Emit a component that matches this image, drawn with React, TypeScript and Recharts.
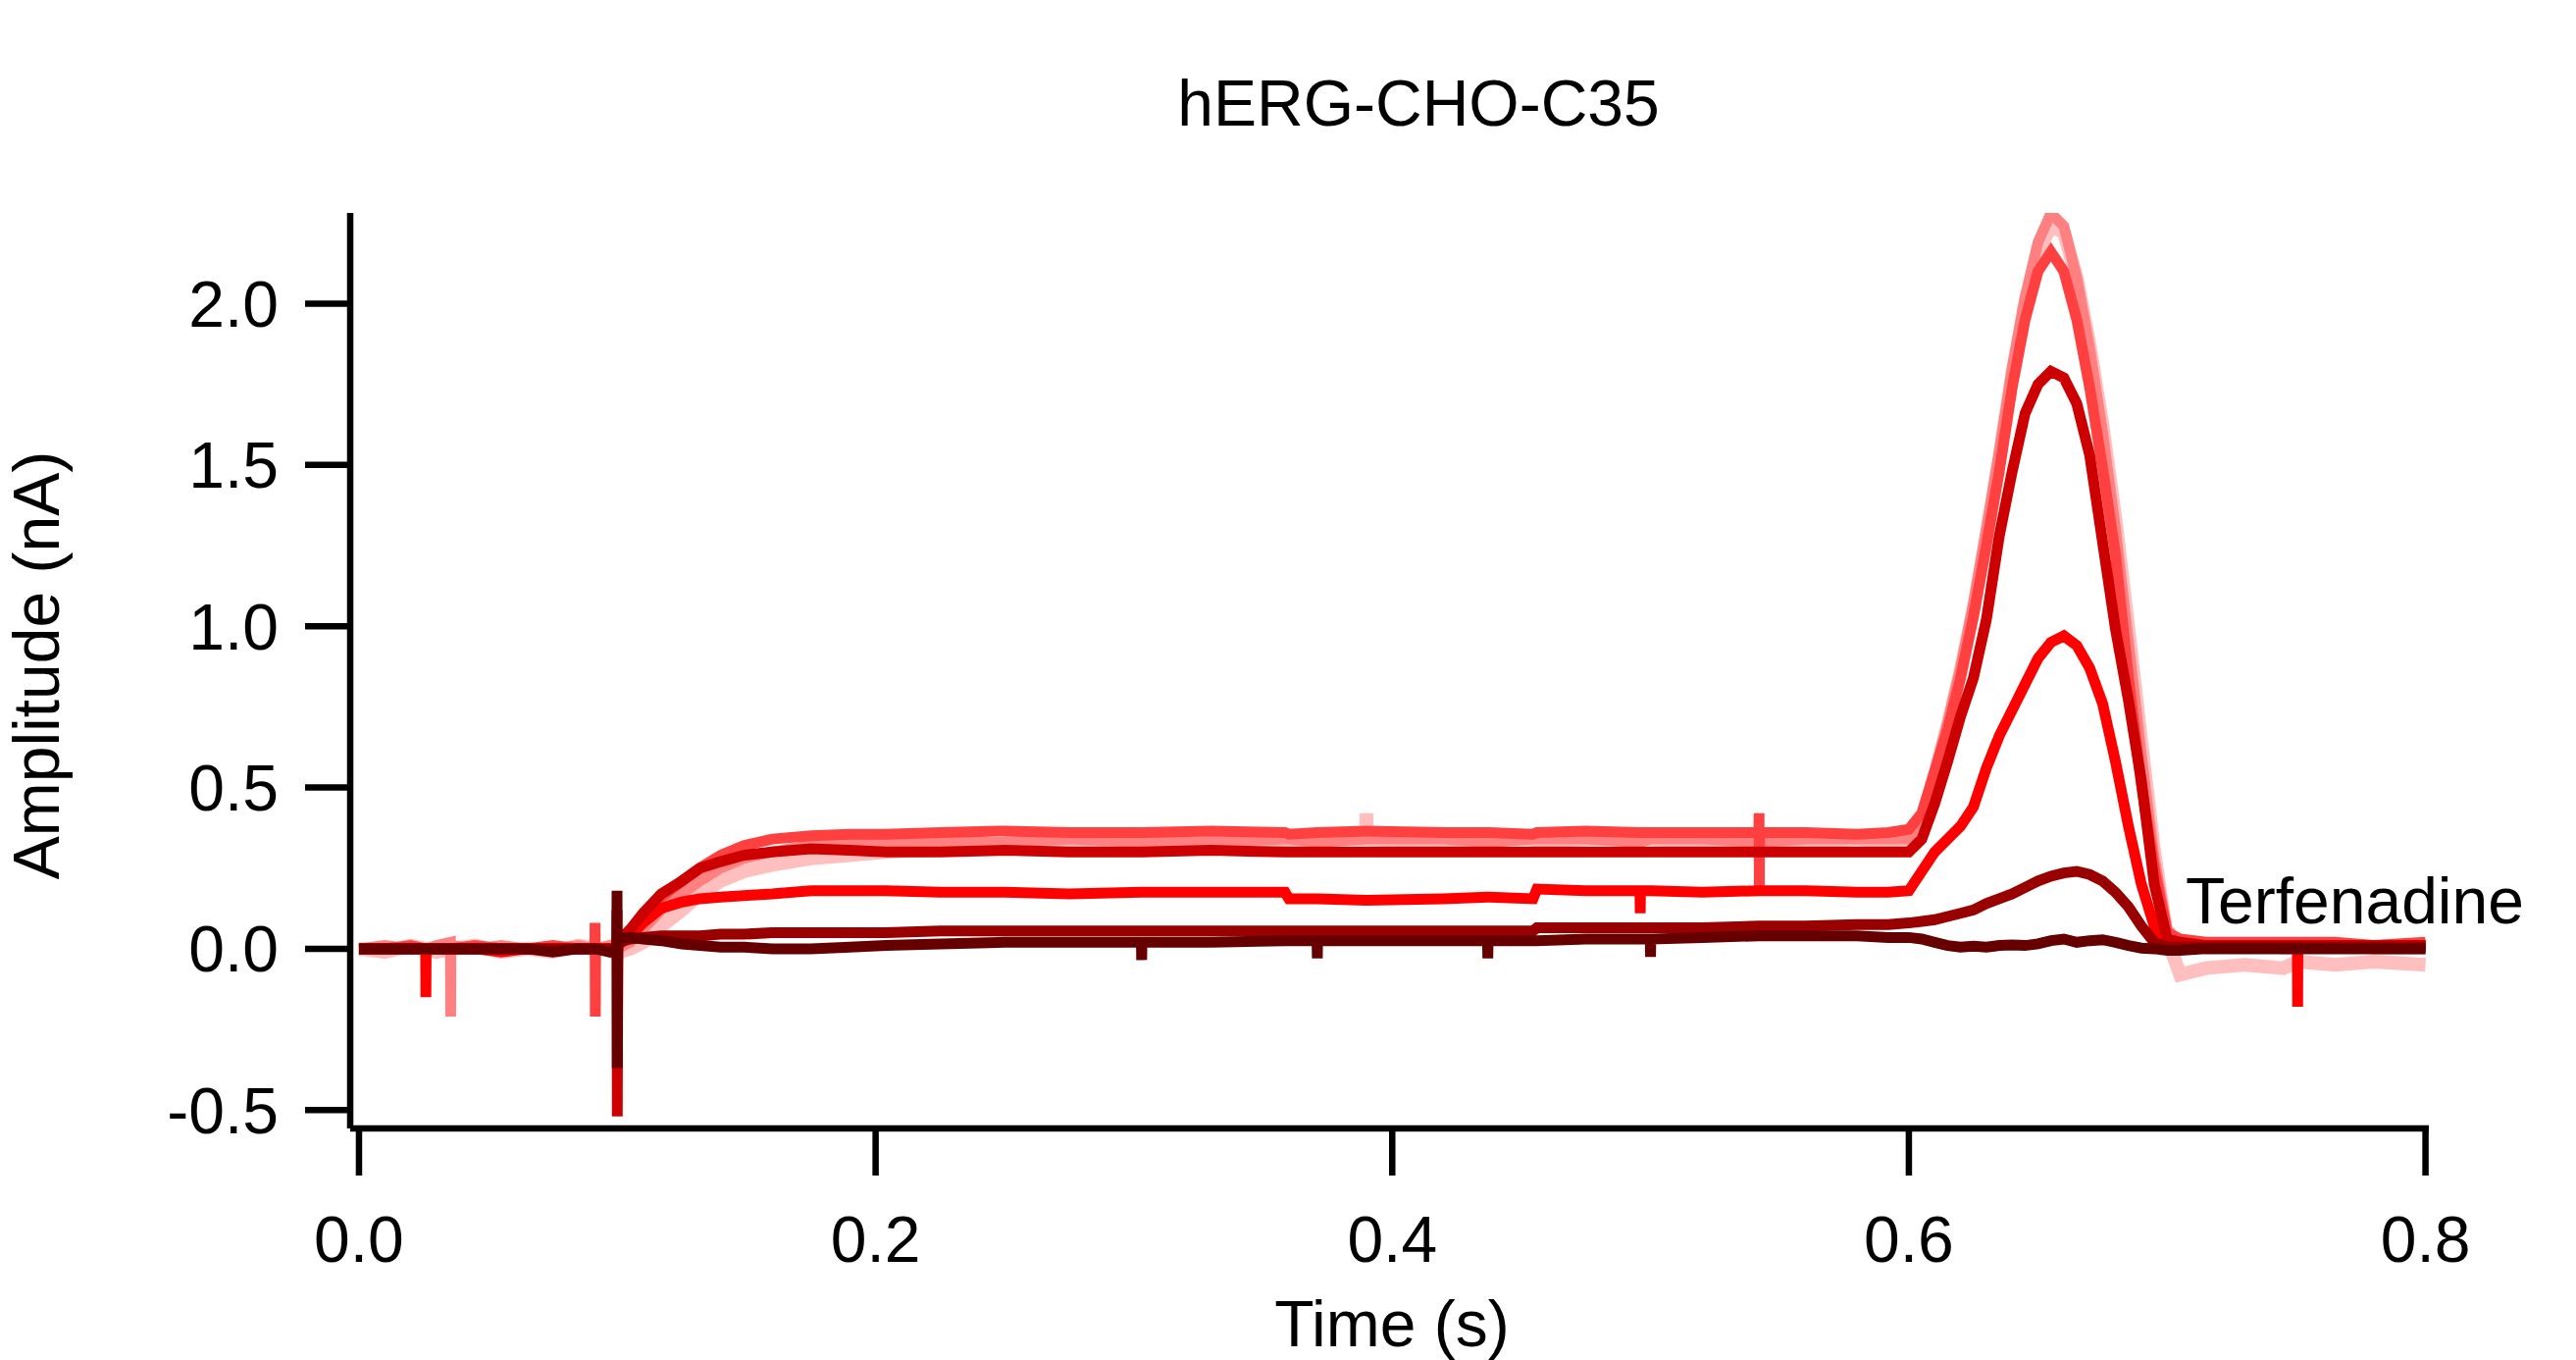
import React from 'react';
import { LineChart, Line, XAxis, YAxis } from 'recharts';

// Time points (s)
const TIME = [
  0.000, 0.010, 0.020, 0.0258, 0.0259, 0.0260, 0.030, 0.0354, 0.0355, 0.0356,
  0.045, 0.055, 0.065, 0.075, 0.085, 0.0913, 0.0914, 0.0915, 0.0916, 0.097,
  0.0998, 0.0999, 0.1000, 0.1002, 0.105, 0.110, 0.117, 0.125, 0.132, 0.140,
  0.149, 0.160, 0.175, 0.190, 0.204, 0.225, 0.250, 0.275, 0.3029, 0.3030,
  0.3031, 0.330, 0.3585, 0.3600, 0.3709, 0.3710, 0.3711, 0.3899, 0.3900, 0.3901,
  0.420, 0.4369, 0.4370, 0.4371, 0.4545, 0.4560, 0.475, 0.4959, 0.4960, 0.4961,
  0.4999, 0.5000, 0.5001, 0.520, 0.5419, 0.5420, 0.5421, 0.5422, 0.560, 0.580,
  0.592, 0.600, 0.605, 0.610, 0.615, 0.620, 0.625, 0.630, 0.635, 0.640,
  0.645, 0.650, 0.655, 0.660, 0.665, 0.670, 0.675, 0.680, 0.685, 0.690,
  0.695, 0.700, 0.705, 0.715, 0.730, 0.745, 0.7504, 0.7505, 0.7506, 0.765,
  0.780, 0.800,
];

// Amplitude traces (nA)
const TRACE_1 = [
  0.00, -0.01, 0.01, 0.00, 0.00, 0.00, -0.01, 0.00, 0.00, 0.00,
  0.01, -0.01, 0.00, -0.01, 0.01, 0.00, 0.00, 0.00, 0.00, 0.00,
  0.00, 0.00, -0.03, -0.01, 0.00, 0.02, 0.07, 0.12, 0.17, 0.21,
  0.24, 0.26, 0.28, 0.29, 0.30, 0.31, 0.32, 0.33, 0.33, 0.33,
  0.33, 0.34, 0.33, 0.33, 0.34, 0.34, 0.34, 0.34, 0.42, 0.34,
  0.33, 0.34, 0.34, 0.34, 0.34, 0.33, 0.34, 0.34, 0.34, 0.34,
  0.34, 0.34, 0.34, 0.33, 0.34, 0.34, 0.34, 0.34, 0.33, 0.34,
  0.33, 0.33, 0.40, 0.54, 0.69, 0.86, 1.05, 1.28, 1.52, 1.78,
  2.00, 2.16, 2.24, 2.22, 2.08, 1.87, 1.62, 1.33, 0.99, 0.64,
  0.30, 0.03, -0.08, -0.06, -0.05, -0.06, -0.04, -0.04, -0.04, -0.05,
  -0.04, -0.05,
];

const TRACE_2 = [
  0.00, 0.01, 0.00, 0.00, 0.00, 0.00, 0.01, 0.02, -0.21, 0.01,
  0.00, 0.01, 0.00, 0.00, 0.01, 0.00, 0.00, 0.00, 0.00, 0.01,
  0.00, 0.01, -0.02, 0.00, 0.02, 0.06, 0.12, 0.17, 0.21, 0.25,
  0.28, 0.30, 0.32, 0.33, 0.33, 0.33, 0.33, 0.34, 0.33, 0.33,
  0.33, 0.33, 0.34, 0.34, 0.33, 0.33, 0.33, 0.34, 0.34, 0.34,
  0.34, 0.33, 0.33, 0.33, 0.34, 0.34, 0.34, 0.33, 0.33, 0.33,
  0.34, 0.34, 0.34, 0.34, 0.33, 0.33, 0.33, 0.33, 0.34, 0.34,
  0.34, 0.34, 0.41, 0.55, 0.70, 0.87, 1.07, 1.30, 1.54, 1.80,
  2.02, 2.19, 2.28, 2.24, 2.08, 1.86, 1.60, 1.30, 0.95, 0.60,
  0.28, 0.06, 0.02, 0.01, 0.01, 0.00, 0.00, 0.00, 0.00, 0.01,
  0.00, 0.00,
];

const TRACE_3 = [
  0.00, 0.00, 0.01, 0.00, 0.00, 0.00, 0.00, 0.00, 0.00, 0.00,
  0.01, 0.00, 0.00, 0.01, 0.00, 0.00, 0.08, -0.21, 0.00, 0.00,
  0.00, 0.02, -0.03, 0.01, 0.05, 0.10, 0.16, 0.21, 0.25, 0.29,
  0.32, 0.34, 0.35, 0.355, 0.355, 0.36, 0.365, 0.36, 0.36, 0.36,
  0.36, 0.365, 0.36, 0.355, 0.36, 0.36, 0.36, 0.365, 0.365, 0.365,
  0.36, 0.36, 0.36, 0.36, 0.355, 0.36, 0.365, 0.36, 0.36, 0.36,
  0.36, 0.36, 0.36, 0.36, 0.36, 0.42, 0.19, 0.36, 0.36, 0.355,
  0.36, 0.37, 0.42, 0.55, 0.68, 0.84, 1.03, 1.25, 1.48, 1.74,
  1.95, 2.10, 2.16, 2.10, 1.95, 1.74, 1.49, 1.22, 0.84, 0.51,
  0.25, 0.05, 0.03, 0.02, 0.02, 0.02, 0.02, 0.02, 0.02, 0.02,
  0.01, 0.02,
];

const TRACE_4 = [
  0.00, 0.00, 0.00, 0.00, -0.15, 0.00, 0.00, 0.00, 0.00, 0.00,
  0.00, -0.01, 0.00, 0.00, 0.00, 0.00, 0.00, 0.00, 0.00, 0.00,
  0.00, 0.01, -0.02, 0.01, 0.04, 0.08, 0.125, 0.145, 0.155, 0.16,
  0.165, 0.17, 0.18, 0.18, 0.18, 0.175, 0.175, 0.17, 0.175, 0.175,
  0.175, 0.175, 0.175, 0.155, 0.155, 0.155, 0.155, 0.15, 0.15, 0.15,
  0.155, 0.16, 0.16, 0.16, 0.155, 0.185, 0.18, 0.18, 0.11, 0.18,
  0.18, 0.18, 0.18, 0.175, 0.18, 0.18, 0.18, 0.18, 0.18, 0.175,
  0.175, 0.18, 0.24, 0.30, 0.34, 0.38, 0.44, 0.56, 0.66, 0.74,
  0.82, 0.90, 0.95, 0.97, 0.94, 0.87, 0.76, 0.58, 0.38, 0.20,
  0.07, 0.02, 0.01, 0.01, 0.01, 0.01, 0.01, -0.18, 0.01, 0.01,
  0.01, 0.01,
];

const TRACE_5 = [
  0.00, 0.00, 0.00, 0.00, 0.00, 0.00, 0.00, 0.00, 0.00, 0.00,
  0.00, 0.00, 0.00, 0.00, 0.00, 0.00, 0.00, 0.00, 0.00, 0.00,
  0.00, 0.12, -0.52, 0.02, 0.06, 0.11, 0.17, 0.21, 0.25, 0.27,
  0.29, 0.30, 0.31, 0.305, 0.30, 0.30, 0.305, 0.30, 0.30, 0.30,
  0.30, 0.305, 0.30, 0.30, 0.30, 0.30, 0.30, 0.30, 0.30, 0.30,
  0.30, 0.30, 0.30, 0.30, 0.30, 0.30, 0.30, 0.30, 0.30, 0.30,
  0.30, 0.30, 0.30, 0.30, 0.30, 0.30, 0.30, 0.30, 0.30, 0.30,
  0.30, 0.30, 0.34, 0.45, 0.58, 0.72, 0.84, 1.02, 1.28, 1.48,
  1.66, 1.75, 1.79, 1.77, 1.69, 1.53, 1.26, 0.99, 0.77, 0.52,
  0.20, 0.03, 0.02, 0.01, 0.01, 0.01, 0.01, 0.01, 0.01, 0.01,
  0.01, 0.01,
];

const TRACE_6 = [
  0.00, 0.00, 0.00, 0.00, 0.00, 0.00, 0.00, 0.00, 0.00, 0.00,
  0.00, 0.00, 0.00, 0.00, 0.00, 0.00, 0.00, 0.00, 0.00, 0.00,
  0.00, 0.03, -0.02, 0.02, 0.03, 0.035, 0.04, 0.04, 0.04, 0.045,
  0.045, 0.05, 0.05, 0.05, 0.05, 0.055, 0.055, 0.055, 0.055, 0.055,
  0.055, 0.055, 0.055, 0.055, 0.055, 0.055, 0.055, 0.055, 0.055, 0.055,
  0.055, 0.055, 0.055, 0.055, 0.055, 0.065, 0.065, 0.065, 0.065, 0.065,
  0.065, 0.065, 0.065, 0.065, 0.07, 0.07, 0.07, 0.07, 0.07, 0.075,
  0.075, 0.08, 0.085, 0.09, 0.10, 0.11, 0.12, 0.14, 0.155, 0.17,
  0.19, 0.21, 0.225, 0.235, 0.24, 0.23, 0.21, 0.175, 0.13, 0.07,
  0.02, 0.005, 0.005, 0.005, 0.005, 0.005, 0.005, 0.005, 0.005, 0.005,
  0.005, 0.005,
];

const TRACE_7 = [
  0.00, 0.00, 0.00, 0.00, 0.00, 0.00, 0.00, 0.00, 0.00, 0.00,
  0.00, 0.00, 0.00, -0.01, 0.00, 0.00, 0.00, 0.00, 0.00, -0.01,
  0.00, 0.18, -0.37, 0.03, 0.035, 0.03, 0.025, 0.015, 0.01, 0.005,
  0.005, 0.00, 0.00, 0.005, 0.01, 0.015, 0.02, 0.02, 0.02, -0.035,
  0.02, 0.02, 0.025, 0.025, 0.025, -0.03, 0.025, 0.025, 0.025, 0.025,
  0.025, 0.025, -0.03, 0.025, 0.025, 0.025, 0.03, 0.03, 0.03, 0.03,
  0.03, -0.025, 0.03, 0.035, 0.04, 0.04, 0.04, 0.04, 0.04, 0.04,
  0.035, 0.035, 0.03, 0.02, 0.01, 0.005, 0.008, 0.005, 0.01, 0.012,
  0.01, 0.015, 0.025, 0.03, 0.02, 0.025, 0.028, 0.02, 0.01, 0.002,
  0.00, -0.005, -0.005, 0.00, 0.00, 0.00, 0.00, 0.00, 0.00, 0.00,
  0.00, 0.00,
];

const X_TICKS = [0, 0.2, 0.4, 0.6, 0.8];
const Y_TICKS = [-0.5, 0, 0.5, 1.0, 1.5, 2.0];

const SERIES = [
  { key: 'p', values: TRACE_1, color: '#FFBFBF', width: 14 },
  { key: 's', values: TRACE_2, color: '#FF8080', width: 11 },
  { key: 'l', values: TRACE_3, color: '#FF4040', width: 11 },
  { key: 'r', values: TRACE_4, color: '#FF0000', width: 11 },
  { key: 'c', values: TRACE_5, color: '#CC0000', width: 11 },
  { key: 'd', values: TRACE_6, color: '#990000', width: 11 },
  { key: 'k', values: TRACE_7, color: '#660000', width: 11 },
];

const rows = TIME.map((t, i) => {
  const row: Record<string, number> = { t };
  SERIES.forEach((s) => {
    row[s.key] = s.values[i];
  });
  return row;
});

const FONT = '"Liberation Sans", Arial, Helvetica, sans-serif';
const FS = 66;
const AX = { stroke: '#000', strokeWidth: 6.5 };

export default function App() {
  return (
    <div style={{ position: 'absolute', left: 0, top: 0, width: 2626, height: 1386, background: '#fff' }}>
      <LineChart
        width={2626}
        height={1386}
        data={rows}
        margin={{ top: 217, right: 150, bottom: 86, left: 0 }}
      >
        <XAxis
          dataKey="t"
          type="number"
          domain={[-0.0034, 0.8013]}
          allowDataOverflow
          ticks={X_TICKS}
          tickFormatter={(v: number) => v.toFixed(1)}
          axisLine={AX}
          tickLine={AX}
          tickSize={48}
          tickMargin={41}
          height={150}
          tick={{ fill: '#000', fontSize: FS, fontFamily: FONT }}
        />
        <YAxis
          type="number"
          domain={[-0.557, 2.281]}
          allowDataOverflow
          ticks={Y_TICKS}
          tickFormatter={(v: number) => v.toFixed(1)}
          axisLine={AX}
          tickLine={AX}
          tickSize={46}
          tickMargin={27}
          width={357}
          tick={{ fill: '#000', fontSize: FS, fontFamily: FONT }}
        />
        {SERIES.map((s) => (
          <Line
            key={s.key}
            dataKey={s.key}
            type="linear"
            stroke={s.color}
            strokeWidth={s.width}
            strokeLinejoin="miter"
            dot={false}
            activeDot={false}
            isAnimationActive={false}
          />
        ))}
        <text x={1446} y={128} textAnchor="middle" fontSize={FS} fontFamily={FONT} fill="#000">
          hERG-CHO-C35
        </text>
        <text x={1419} y={1372} textAnchor="middle" fontSize={FS} fontFamily={FONT} fill="#000">
          Time (s)
        </text>
        <text
          x={60}
          y={678}
          textAnchor="middle"
          fontSize={FS}
          fontFamily={FONT}
          fill="#000"
          transform="rotate(-90, 60, 678)"
        >
          Amplitude (nA)
        </text>
        <text x={2228} y={941} textAnchor="start" fontSize={FS} fontFamily={FONT} fill="#000">
          Terfenadine
        </text>
      </LineChart>
    </div>
  );
}
